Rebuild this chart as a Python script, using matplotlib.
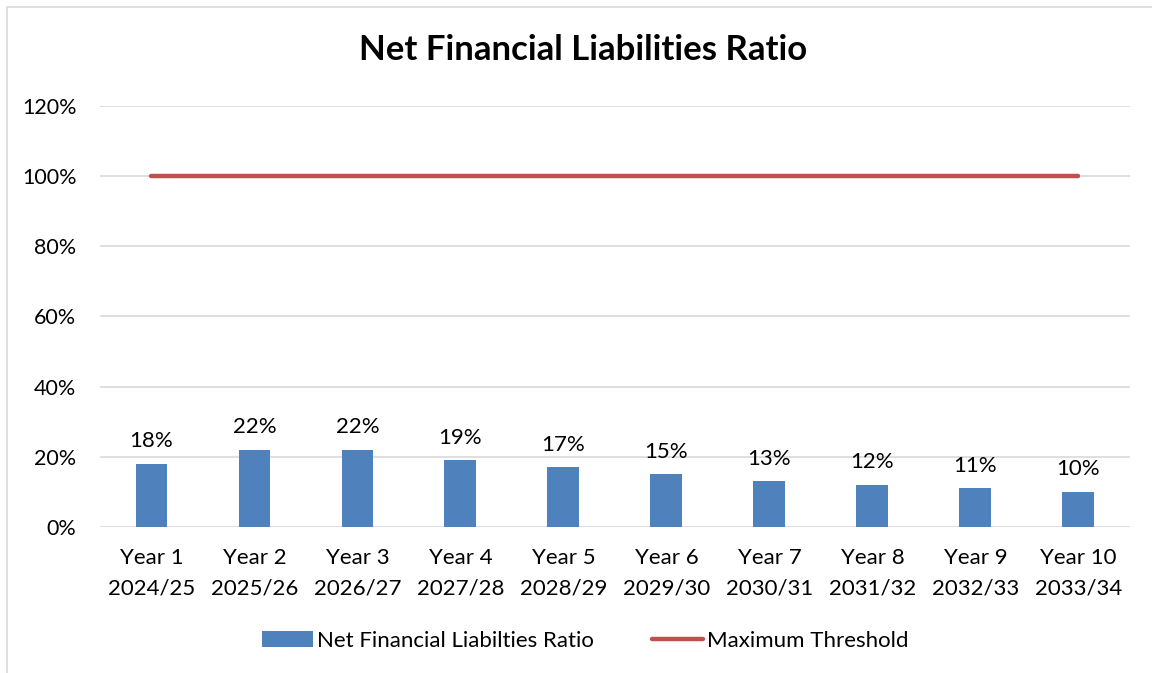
import matplotlib

matplotlib.use("Agg")
import matplotlib.pyplot as plt
import numpy as np
from matplotlib.patches import Rectangle

plt.rcParams["font.family"] = ["Lato", "DejaVu Sans"]

years = ["Year 1", "Year 2", "Year 3", "Year 4", "Year 5",
         "Year 6", "Year 7", "Year 8", "Year 9", "Year 10"]
periods = ["2024/25", "2025/26", "2026/27", "2027/28", "2028/29",
           "2029/30", "2030/31", "2031/32", "2032/33", "2033/34"]
ratio = [18, 22, 22, 19, 17, 15, 13, 12, 11, 10]
threshold = [100] * 10

fig = plt.figure(figsize=(11.52, 6.73), dpi=100)
ax = fig.add_axes([0.0868, 0.217, 0.894, 0.6255])

x = np.arange(len(years))
bars = ax.bar(x, ratio, width=0.31, color="#4F81BD", zorder=2,
              label="Net Financial Liabilties Ratio")
(line,) = ax.plot(x, threshold, color="#C0504D", lw=3.2, solid_capstyle="round",
                  zorder=3, label="Maximum Threshold")

for xi, v in zip(x, ratio):
    ax.annotate(f"{v}%", (xi, v), xytext=(0, 9), textcoords="offset points",
                ha="center", va="bottom", fontsize=16)

ax.set_xlim(-0.5, 9.5)
ax.set_ylim(0, 120)
ax.set_yticks(range(0, 121, 20))
ax.set_yticklabels([f"{t}%" for t in range(0, 121, 20)], fontsize=15.5)
ax.set_xticks(x)
ax.set_xticklabels([f"{a}\n{b}" for a, b in zip(years, periods)], fontsize=16,
                   linespacing=1.65)
ax.tick_params(length=0)
ax.tick_params(axis="x", pad=15.5)
ax.tick_params(axis="y", pad=17)
ax.grid(axis="y", color="#D9D9D9", lw=1.2, zorder=0)
for s in ax.spines.values():
    s.set_visible(False)

fig.text(0.506, 0.926, "Net Financial Liabilities Ratio", fontsize=25,
         fontweight="bold", ha="center", va="center")

fig.legend(handles=[bars, line], loc="center", bbox_to_anchor=(0.508, 0.048),
           ncol=2, frameon=False, fontsize=16, handlelength=2.3,
           handletextpad=0.2, columnspacing=2.6)

fig.patches.append(Rectangle((7 / 1152, -0.1), 1.2, 1.1 - 7 / 673,
                             transform=fig.transFigure, fill=False,
                             edgecolor="#D9D9D9", lw=1.2))

fig.savefig("out.png", dpi=100)
